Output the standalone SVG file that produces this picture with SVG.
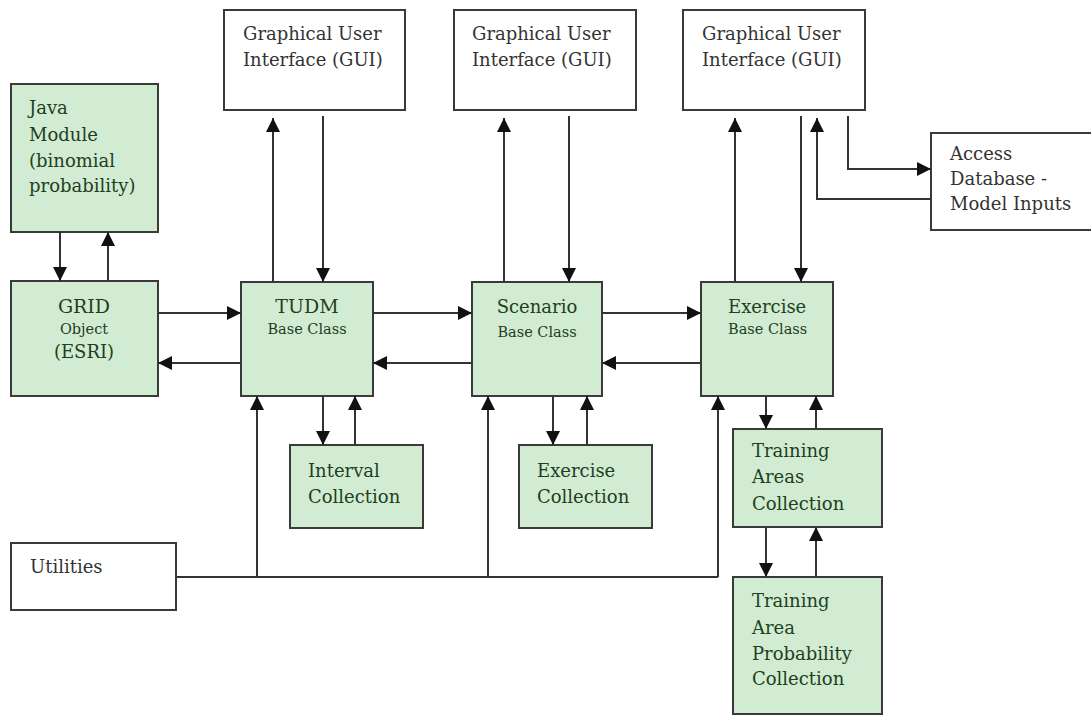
<svg xmlns="http://www.w3.org/2000/svg" width="1091" height="715" viewBox="0 0 1091 715">
<style>
.g{fill:#d2ecd3;stroke:#3a3a3a;stroke-width:2}
.w{fill:#ffffff;stroke:#3a3a3a;stroke-width:2}
.tg{font-family:"DejaVu Serif","Liberation Serif",serif;font-size:18px;fill:#1e4020}
.tw{font-family:"DejaVu Serif","Liberation Serif",serif;font-size:18px;fill:#333333}
.sm{font-size:14.5px}
.lg{font-size:19px}
.c{fill:none;stroke:#333333;stroke-width:2}
</style>
<defs>
<marker id="ah" markerWidth="14" markerHeight="14" refX="14" refY="7" orient="auto" markerUnits="userSpaceOnUse">
<path d="M0,0 L14,7 L0,14 Z" fill="#111111"/>
</marker>
</defs>
<rect width="1091" height="715" fill="#ffffff"/>

<g id="gui1"><rect class="w" x="224" y="10" width="181" height="100"/>
<text class="tw" x="243" y="40">Graphical User</text><text class="tw" x="243" y="66">Interface (GUI)</text></g>
<g id="gui2"><rect class="w" x="454" y="10" width="182" height="100"/>
<text class="tw" x="472" y="40">Graphical User</text><text class="tw" x="472" y="66">Interface (GUI)</text></g>
<g id="gui3"><rect class="w" x="683" y="10" width="182" height="100"/>
<text class="tw" x="702" y="40">Graphical User</text><text class="tw" x="702" y="66">Interface (GUI)</text></g>
<g id="access"><rect class="w" x="931" y="133" width="165" height="97"/>
<text class="tw" x="950" y="160">Access</text><text class="tw" x="950" y="185">Database -</text><text class="tw" x="950" y="210">Model Inputs</text></g>
<g id="java"><rect class="g" x="11" y="84" width="147" height="148"/>
<text class="tg" x="29" y="114">Java</text><text class="tg" x="29" y="141">Module</text><text class="tg" x="29" y="167">(binomial</text><text class="tg" x="29" y="192">probability)</text></g>
<g id="grid"><rect class="g" x="11" y="281" width="147" height="115"/>
<text class="tg lg" x="84" y="313" text-anchor="middle">GRID</text><text class="tg sm" x="84" y="334" text-anchor="middle">Object</text><text class="tg" x="84" y="358" text-anchor="middle">(ESRI)</text></g>
<g id="tudm"><rect class="g" x="241" y="282" width="132" height="114"/>
<text class="tg lg" x="307" y="313" text-anchor="middle">TUDM</text><text class="tg sm" x="307" y="334" text-anchor="middle">Base Class</text></g>
<g id="scenario"><rect class="g" x="472" y="282" width="130" height="114"/>
<text class="tg" x="537" y="313" text-anchor="middle">Scenario</text><text class="tg sm" x="537" y="337" text-anchor="middle">Base Class</text></g>
<g id="exercise"><rect class="g" x="701" y="282" width="132" height="114"/>
<text class="tg" x="728" y="313">Exercise</text><text class="tg sm" x="728" y="334">Base Class</text></g>
<g id="interval"><rect class="g" x="290" y="445" width="133" height="83"/>
<text class="tg" x="308" y="477">Interval</text><text class="tg" x="308" y="503">Collection</text></g>
<g id="excoll"><rect class="g" x="519" y="445" width="133" height="83"/>
<text class="tg" x="537" y="477">Exercise</text><text class="tg" x="537" y="503">Collection</text></g>
<g id="areas"><rect class="g" x="733" y="429" width="149" height="98"/>
<text class="tg" x="752" y="457">Training</text><text class="tg" x="752" y="483">Areas</text><text class="tg" x="752" y="510">Collection</text></g>
<g id="prob"><rect class="g" x="733" y="577" width="149" height="137"/>
<text class="tg" x="752" y="607">Training</text><text class="tg" x="752" y="634">Area</text><text class="tg" x="752" y="660">Probability</text><text class="tg" x="752" y="685">Collection</text></g>
<g id="utilities"><rect class="w" x="11" y="543" width="165" height="67"/>
<text class="tw" x="30" y="573">Utilities</text></g>

<g id="connectors">
<line class="c" x1="60" y1="232" x2="60" y2="281" marker-end="url(#ah)"/>
<line class="c" x1="108" y1="281" x2="108" y2="232" marker-end="url(#ah)"/>
<line class="c" x1="158" y1="313" x2="241" y2="313" marker-end="url(#ah)"/>
<line class="c" x1="241" y1="363" x2="158" y2="363" marker-end="url(#ah)"/>
<line class="c" x1="373" y1="313" x2="472" y2="313" marker-end="url(#ah)"/>
<line class="c" x1="472" y1="363" x2="373" y2="363" marker-end="url(#ah)"/>
<line class="c" x1="602" y1="313" x2="701" y2="313" marker-end="url(#ah)"/>
<line class="c" x1="701" y1="363" x2="602" y2="363" marker-end="url(#ah)"/>
<line class="c" x1="273" y1="282" x2="273" y2="118" marker-end="url(#ah)"/>
<line class="c" x1="323" y1="116" x2="323" y2="282" marker-end="url(#ah)"/>
<line class="c" x1="504" y1="282" x2="504" y2="118" marker-end="url(#ah)"/>
<line class="c" x1="569" y1="116" x2="569" y2="282" marker-end="url(#ah)"/>
<line class="c" x1="735" y1="282" x2="735" y2="118" marker-end="url(#ah)"/>
<line class="c" x1="801" y1="116" x2="801" y2="282" marker-end="url(#ah)"/>
<polyline class="c" points="848,116 848,169 931,169" marker-end="url(#ah)"/>
<polyline class="c" points="931,199 817,199 817,118" marker-end="url(#ah)"/>
<line class="c" x1="323" y1="396" x2="323" y2="445" marker-end="url(#ah)"/>
<line class="c" x1="355" y1="445" x2="355" y2="396" marker-end="url(#ah)"/>
<line class="c" x1="553" y1="396" x2="553" y2="445" marker-end="url(#ah)"/>
<line class="c" x1="587" y1="445" x2="587" y2="396" marker-end="url(#ah)"/>
<line class="c" x1="766" y1="396" x2="766" y2="429" marker-end="url(#ah)"/>
<line class="c" x1="816" y1="429" x2="816" y2="396" marker-end="url(#ah)"/>
<line class="c" x1="766" y1="527" x2="766" y2="577" marker-end="url(#ah)"/>
<line class="c" x1="816" y1="577" x2="816" y2="527" marker-end="url(#ah)"/>
<polyline class="c" points="176,577 718,577"/>
<line class="c" x1="257" y1="577" x2="257" y2="396" marker-end="url(#ah)"/>
<line class="c" x1="488" y1="577" x2="488" y2="396" marker-end="url(#ah)"/>
<line class="c" x1="718" y1="577" x2="718" y2="396" marker-end="url(#ah)"/>
</g>
</svg>
